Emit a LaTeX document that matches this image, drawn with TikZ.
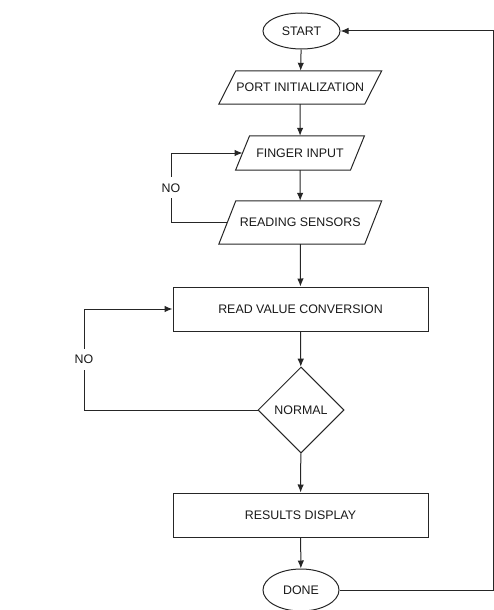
\documentclass[tikz,border=0pt]{standalone}
\usepackage{fontspec}
\setmainfont{Liberation Sans}
\usetikzlibrary{shapes.geometric,arrows.meta}
\begin{document}
\begin{tikzpicture}[x=1pt,y=-1pt,
  every node/.style={font=\fontsize{12.4}{14}\selectfont, text=black!90},
  line/.style={draw=black!85, line width=1pt},
  arr/.style={line, -{Latex[length=8pt,width=6.5pt]}},
  term/.style={ellipse, line, minimum width=77pt, minimum height=36pt, inner sep=0pt},
  procbox/.style={rectangle, line, minimum width=255pt, minimum height=44pt, inner sep=0pt},
  iobox/.style={rectangle, minimum height=#1, inner sep=0pt},
  decis/.style={diamond, line, minimum width=86pt, minimum height=86pt, inner sep=0pt},
  lbl/.style={fill=white, inner xsep=3pt, inner ysep=6pt}]
\useasboundingbox (0,0) rectangle (494,610);
% nodes
\node[term] (start) at (301.5,31) {START};
\node[iobox=33pt, minimum width=145.5pt] (port) at (300.25,87.5) {PORT INITIALIZATION};
\node[iobox=34pt, minimum width=114.5pt] (finger) at (300,153) {FINGER INPUT};
\node[iobox=43pt, minimum width=145.5pt] (read) at (300.25,222.5) {READING SENSORS};
\node[procbox] (conv) at (300.5,309) {READ VALUE CONVERSION};
\node[decis] (normal) at (301,410) {NORMAL};
\node[procbox] (res) at (300.5,515) {RESULTS DISPLAY};
\node[term, minimum height=42pt, minimum width=76pt] (done) at (301,590) {DONE};
% parallelograms
\draw[line] ([xshift=8.5pt]port.north west) -- ([xshift=8.5pt]port.north east) -- ([xshift=-8.5pt]port.south east) -- ([xshift=-8.5pt]port.south west) -- cycle;
\draw[line] ([xshift=7pt]finger.north west) -- ([xshift=7pt]finger.north east) -- ([xshift=-7pt]finger.south east) -- ([xshift=-7pt]finger.south west) -- cycle;
\draw[line] ([xshift=8.5pt]read.north west) -- ([xshift=8.5pt]read.north east) -- ([xshift=-8.5pt]read.south east) -- ([xshift=-8.5pt]read.south west) -- cycle;
% connectors
\draw[arr] (start) -- (port);
\draw[arr] (port) -- (finger);
\draw[arr] (finger) -- (read);
\draw[arr] (read) -- (conv);
\draw[arr] (conv) -- (normal);
\draw[arr] (normal) -- (res);
\draw[arr] (res) -- (done);
\coordinate (l1) at (171,222.5);
\coordinate (l2) at (84,410);
\coordinate (r1) at (493,590);
\draw[arr] (read.west) -- (l1) |- node[pos=0.25, lbl] {NO} (finger.west);
\draw[arr] (normal.west) -- (l2) |- node[pos=0.25, lbl] {NO} (conv.west);
\draw[arr] (done.east) -- (r1) |- (start.east);
\end{tikzpicture}
\end{document}
